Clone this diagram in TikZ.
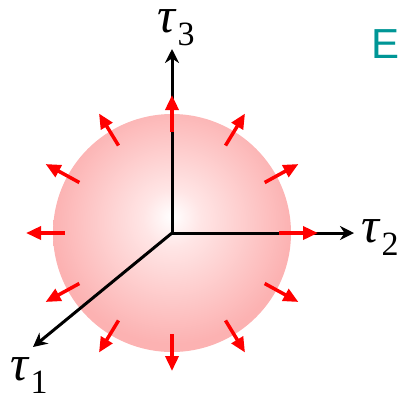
\documentclass[tikz,border=0pt]{standalone}
\usepackage{fontspec}
\setmainfont{Liberation Serif}
\newfontfamily\sansE{Liberation Sans}
\usetikzlibrary{arrows.meta,calc}
\definecolor{tealE}{RGB}{0,150,150}
\definecolor{sphedge}{RGB}{252,178,178}
\pgfdeclareradialshading{sphshade}{\pgfpoint{0bp}{3.5bp}}{color(0bp)=(white); color(6bp)=(red!10); color(25bp)=(sphedge); color(50bp)=(sphedge)}
\newcommand{\taulab}[1]{\fontsize{50}{50}\selectfont\textit{τ}\kern1pt\raisebox{-13pt}{\fontsize{34}{34}\selectfont #1}}
\begin{document}
\begin{tikzpicture}[x=1pt,y=-1pt,
  axisarrow/.style={line width=3pt, black, -{Stealth[length=14pt,width=14pt,inset=4.5pt]}},
  forcearrow/.style={line width=3.5pt, red, -{Triangle[length=15pt,width=13pt]}},
  taulabel/.style={inner sep=0pt, anchor=base west},
]
\useasboundingbox (0,0) rectangle (398,392);
\coordinate (c) at (172,233);
% sphere
\shade[shading=sphshade] (c) circle (119);
% axes
\coordinate (t3) at (172,49);
\coordinate (t2) at (354,233);
\coordinate (t1) at (33,347);
\draw[axisarrow] (c) -- (t3);
\draw[axisarrow] (c) -- (t2);
\draw[axisarrow] (c) -- (t1);
% force arrows
\foreach \a in {0,30,...,330}{
  \coordinate (s\a) at ($(c)+({107*cos(\a)},{-101*sin(\a)})$);
  \coordinate (e\a) at ($(c)+({146*cos(\a)},{-138*sin(\a)})$);
  \draw[forcearrow] (s\a) -- (e\a);
}
% labels
\node[taulabel] (L3) at (157,32) {\taulab{3}};
\node[taulabel] (L2) at (361,242) {\taulab{2}};
\node[taulabel] (L1) at (10,380) {\taulab{1}};
\node[inner sep=0pt, anchor=base west, text=tealE] (E) at (371,58) {\sansE\fontsize{42}{42}\selectfont E};
\end{tikzpicture}
\end{document}
